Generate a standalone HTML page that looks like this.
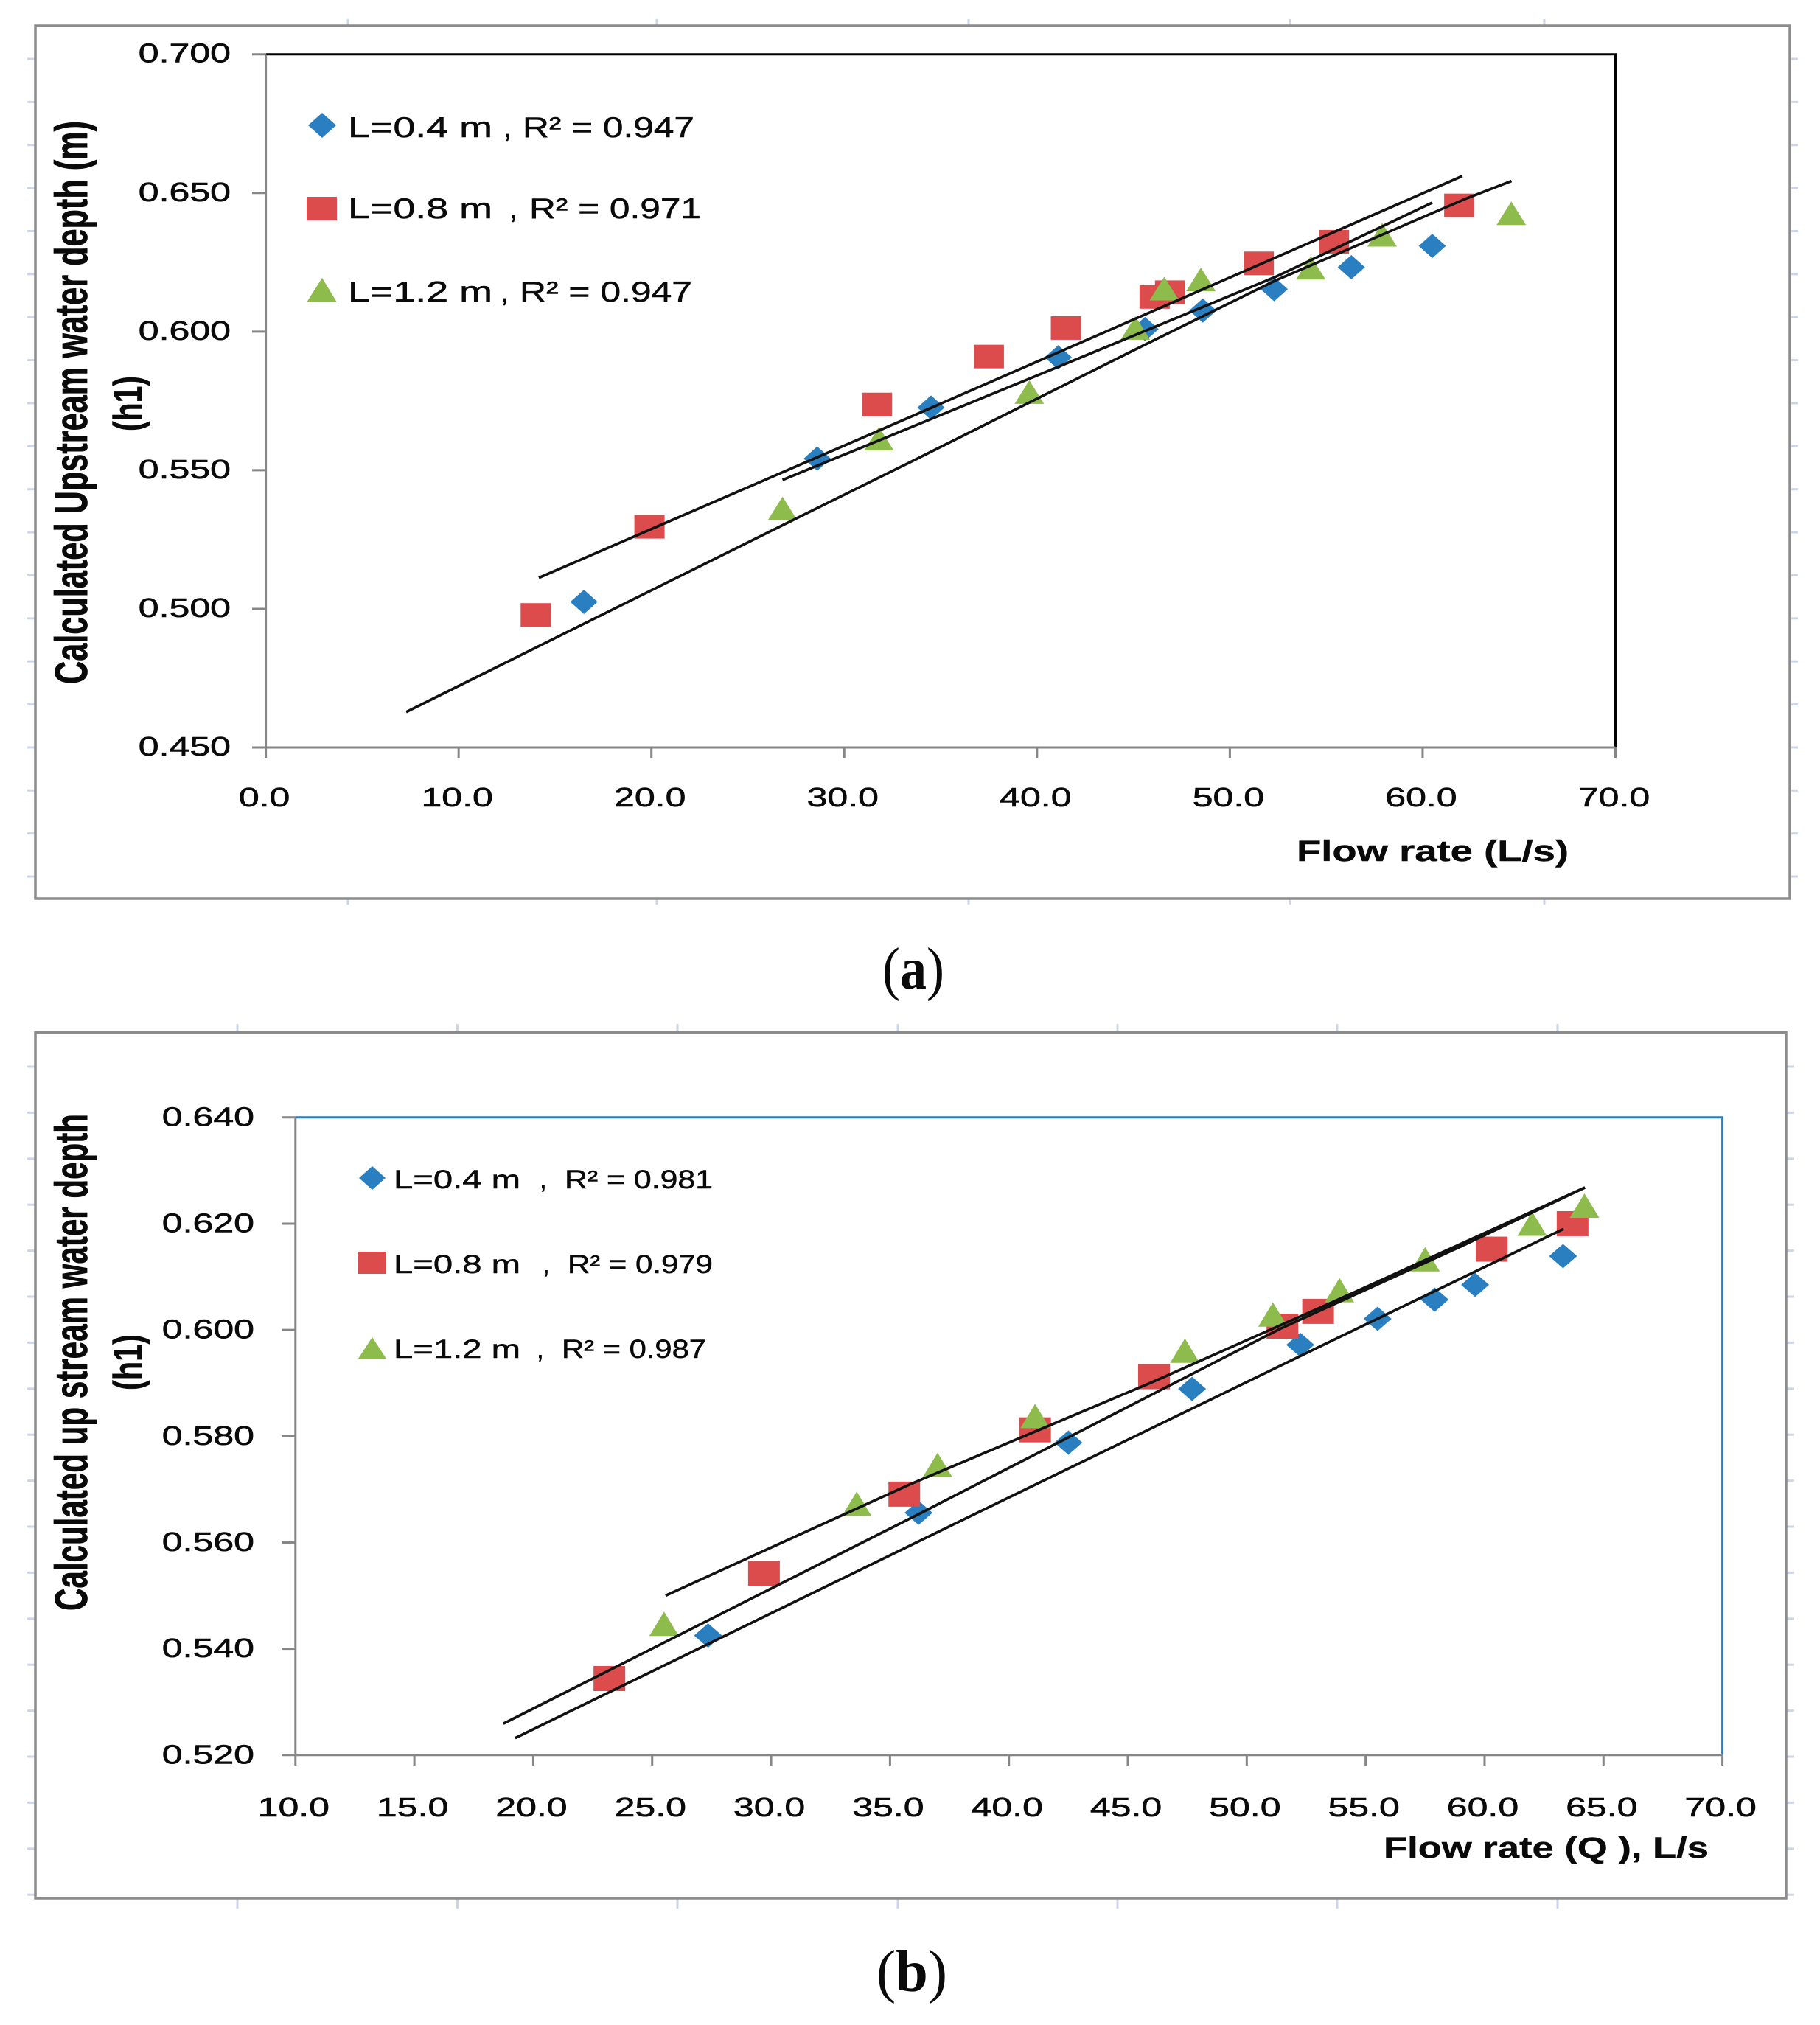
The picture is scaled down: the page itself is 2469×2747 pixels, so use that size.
<!DOCTYPE html>
<html lang="en">
<head>
<meta charset="utf-8">
<title>Calculated upstream water depth vs flow rate</title>
<style>
html,body{margin:0;padding:0;background:#fff;}
svg{display:block;}
text{font-family:"Liberation Sans",sans-serif;fill:#0a0a0a;}
.tick{stroke:#0a0a0a;stroke-width:.6;}
.legend{font-size:39px;stroke:#0a0a0a;stroke-width:.5;}
.legendb{font-size:35px;stroke:#0a0a0a;stroke-width:.5;}
.title{font-weight:bold;font-size:62px;stroke:#0a0a0a;stroke-width:.8;}
.h1{font-weight:bold;font-size:55px;stroke:#0a0a0a;stroke-width:.5;}
.xt{font-weight:bold;font-size:40px;stroke:#0a0a0a;stroke-width:.4;}
.cap{font-family:"Liberation Serif",serif;font-size:80px;}
.capb{font-weight:bold;}
</style>
</head>
<body>
<svg id="root" xmlns="http://www.w3.org/2000/svg" width="2469" height="2747" viewBox="0 0 2469 2747">
  <rect x="0" y="0" width="2469" height="2747" fill="#ffffff"/>

  <!-- Panel A static -->
  <g>
    <g id="a-deco"></g>
    <rect x="48" y="35" width="2380" height="1184" fill="#fff" stroke="#8c8c8c" stroke-width="3.5"/>
    <path d="M361 73.7H2191.5V1014" fill="none" stroke="#000" stroke-width="3"/>
    <path d="M360.6 73.7V1014H2191.5" fill="none" stroke="#868686" stroke-width="3"/>
    <g id="a-ticks"></g>
    <g id="a-marks"></g>
    <text class="title" transform="translate(118,928) rotate(-90)" textLength="764" lengthAdjust="spacingAndGlyphs">Calculated Upstream water depth (m)</text>
    <text class="h1" transform="translate(192,585) rotate(-90)" textLength="75" lengthAdjust="spacingAndGlyphs">(h1)</text>
    <text class="xt" x="1759" y="1168" textLength="369" lengthAdjust="spacingAndGlyphs">Flow rate (L/s)</text>
    <g>
      <polygon points="437,153 456,170 437,187 418,170" fill="#2a7fc0"/>
      <g>
        <text class="legend" x="472" y="186" textLength="196" lengthAdjust="spacingAndGlyphs">L=0.4 m</text>
        <text class="legend" x="683" y="186">,</text>
        <text class="legend" x="709" y="186" textLength="233" lengthAdjust="spacingAndGlyphs">R² = 0.947</text>
      </g>
      <rect x="416" y="267" width="41" height="32" fill="#dc4c4c"/>
      <g>
        <text class="legend" x="472" y="296" textLength="196" lengthAdjust="spacingAndGlyphs">L=0.8 m</text>
        <text class="legend" x="691" y="296">,</text>
        <text class="legend" x="718" y="296" textLength="233" lengthAdjust="spacingAndGlyphs">R² = 0.971</text>
      </g>
      <polygon points="437,377 457,410 416,410" fill="#8dbb4c"/>
      <g>
        <text class="legend" x="472" y="409" textLength="196" lengthAdjust="spacingAndGlyphs">L=1.2 m</text>
        <text class="legend" x="679" y="409">,</text>
        <text class="legend" x="705" y="409" textLength="234" lengthAdjust="spacingAndGlyphs">R² = 0.947</text>
      </g>
    </g>
  </g>
  <text class="cap" x="1197" y="1341" textLength="84" lengthAdjust="spacingAndGlyphs">(<tspan class="capb">a</tspan>)</text>

  <!-- Panel B static -->
  <g>
    <g id="b-deco"></g>
    <rect x="48" y="1400.6" width="2375" height="1174.4" fill="#fff" stroke="#8c8c8c" stroke-width="3.5"/>
    <path d="M401 1515.8H2336.6V2380.8" fill="none" stroke="#2a7dbd" stroke-width="3"/>
    <path d="M400.8 1515.8V2380.8H2336.6" fill="none" stroke="#868686" stroke-width="3"/>
    <g id="b-ticks"></g>
    <g id="b-marks"></g>
    <text class="title" transform="translate(118,2185) rotate(-90)" textLength="674" lengthAdjust="spacingAndGlyphs">Calculated up stream water depth</text>
    <text class="h1" transform="translate(192,1886) rotate(-90)" textLength="76" lengthAdjust="spacingAndGlyphs">(h1)</text>
    <text class="xt" x="1877" y="2520" textLength="441" lengthAdjust="spacingAndGlyphs">Flow rate (Q ), L/s</text>
    <g>
      <polygon points="505,1582 523,1598 505,1614 487,1598" fill="#2a7fc0"/>
      <g>
        <text class="legendb" x="534" y="1612" textLength="172" lengthAdjust="spacingAndGlyphs">L=0.4 m</text>
        <text class="legendb" x="732" y="1612">,</text>
        <text class="legendb" x="766" y="1612" textLength="201" lengthAdjust="spacingAndGlyphs">R² = 0.981</text>
      </g>
      <rect x="486" y="1698" width="38" height="30" fill="#dc4c4c"/>
      <g>
        <text class="legendb" x="534" y="1727" textLength="172" lengthAdjust="spacingAndGlyphs">L=0.8 m</text>
        <text class="legendb" x="736" y="1727">,</text>
        <text class="legendb" x="770" y="1727" textLength="197" lengthAdjust="spacingAndGlyphs">R² = 0.979</text>
      </g>
      <polygon points="505,1814 524,1843 486,1843" fill="#8dbb4c"/>
      <g>
        <text class="legendb" x="534" y="1842" textLength="172" lengthAdjust="spacingAndGlyphs">L=1.2 m</text>
        <text class="legendb" x="728" y="1842">,</text>
        <text class="legendb" x="762" y="1842" textLength="196" lengthAdjust="spacingAndGlyphs">R² = 0.987</text>
      </g>
    </g>
  </g>
  <text class="cap" x="1189" y="2701" textLength="96" lengthAdjust="spacingAndGlyphs">(<tspan class="capb">b</tspan>)</text>
</svg>

<script>
// Panel A data
const aXTickLabels = ['0.0','10.0','20.0','30.0','40.0','50.0','60.0','70.0'];
const aYTickLabels = ['0.450','0.500','0.550','0.600','0.650','0.700'];
const aL04X = [16.5,28.6,34.5,41.1,45.6,48.6,52.3,56.3,60.5];
const aL04Y = [0.5025,0.5542,0.5726,0.5907,0.6009,0.6076,0.6153,0.6232,0.6309];
const aL08X = [14.0,19.9,31.7,37.5,41.5,46.1,46.9,51.5,55.4,61.9];
const aL08Y = [0.4978,0.5296,0.5737,0.5910,0.6013,0.6125,0.6142,0.6246,0.6324,0.6455];
const aL12X = [26.8,31.8,39.6,45.1,46.6,48.5,54.2,57.9,64.6];
const aL12Y = [0.5362,0.5614,0.5782,0.6013,0.6155,0.6188,0.6230,0.6349,0.6427];
const aTrend1X = [14.16,33.39,62.06];
const aTrend1Y = [0.5112,0.5691,0.6561];
const aTrend2X = [26.8,41.07,52.36,60.5];
const aTrend2Y = [0.5465,0.5872,0.6197,0.6465];
const aTrend3X = [7.28,27.16,33.39,45.43,52.36,62.30,64.61];
const aTrend3Y = [0.4628,0.5314,0.5528,0.5947,0.6184,0.6481,0.6543];

// Panel B data
const bXTickLabels = ['10.0','15.0','20.0','25.0','30.0','35.0','40.0','45.0','50.0','55.0','60.0','65.0','70.0'];
const bYTickLabels = ['0.520','0.540','0.560','0.580','0.600','0.620','0.640'];
const bL04X = [27.35,36.2,42.5,47.7,52.25,55.5,57.9,59.6,63.3];
const bL04Y = [0.5425,0.5656,0.5788,0.5889,0.5972,0.6021,0.6057,0.6085,0.6139];
const bL08X = [23.2,29.7,35.6,41.1,46.1,51.5,53.0,60.3,63.7];
const bL08Y = [0.5344,0.5542,0.5691,0.5812,0.5912,0.6007,0.6035,0.6152,0.6200];
const bL12X = [25.5,33.6,37.0,41.1,47.4,51.1,53.9,57.5,62.0,64.2];
const bL12Y = [0.5447,0.5673,0.5746,0.5838,0.5961,0.6029,0.6075,0.6133,0.6200,0.6234];
const bTrend1X = [25.56,35.82,46.14,53.89,64.22];
const bTrend1Y = [0.5500,0.5709,0.5904,0.6058,0.6268];
const bTrend2X = [18.74,36.32,51.44,59.0,64.22];
const bTrend2Y = [0.5259,0.5656,0.6003,0.6157,0.6268];
const bTrend3X = [19.24,38.26,52.9,63.32];
const bTrend3Y = [0.5232,0.5647,0.5965,0.6190];

const NS = 'http://www.w3.org/2000/svg';
const BLUE = '#2a7fc0', RED = '#dc4c4c', GREEN = '#8dbb4c', PALE = '#ccd6e8', AXIS = '#868686';

function xA(v){ return 360.6 + (v - 0) * (2191.5 - 360.6) / 70; }
function yA(v){ return 1014 - (v - 0.45) * (1014 - 73.7) / 0.25; }
function xB(v){ return 400.8 + (v - 10) * (2336.6 - 400.8) / 60; }
function yB(v){ return 2380.8 - (v - 0.52) * (2380.8 - 1515.8) / 0.12; }

function seg(parent, name, x1, y1, x2, y2, color, w){
  const el = document.createElementNS(NS, 'line');
  
  
  el.setAttribute('x1', x1); el.setAttribute('y1', y1);
  el.setAttribute('x2', x2); el.setAttribute('y2', y2);
  el.setAttribute('stroke', color); el.setAttribute('stroke-width', w);
  parent.appendChild(el);
}
function label(parent, name, str, x, y, anchor){
  const el = document.createElementNS(NS, 'text');
  
  
  el.setAttribute('class', 'tick');
  el.setAttribute('font-size', '36');
  el.setAttribute('text-anchor', anchor);
  el.setAttribute('transform', 'translate(' + x + ',' + y + ') scale(1.39,1)');
  el.textContent = str;
  parent.appendChild(el);
}
function diamond(parent, name, cx, cy, w, h){
  const el = document.createElementNS(NS, 'polygon');
  
  
  el.setAttribute('points', [cx, cy - h/2, cx + w/2, cy, cx, cy + h/2, cx - w/2, cy].join(' '));
  el.setAttribute('fill', BLUE);
  parent.appendChild(el);
}
function square(parent, name, cx, cy, w, h){
  const el = document.createElementNS(NS, 'rect');
  
  
  el.setAttribute('x', cx - w/2); el.setAttribute('y', cy - h/2);
  el.setAttribute('width', w); el.setAttribute('height', h);
  el.setAttribute('fill', RED);
  parent.appendChild(el);
}
function triangle(parent, name, cx, cy, w, h){
  const el = document.createElementNS(NS, 'polygon');
  
  
  el.setAttribute('points', [cx, cy - h/2, cx + w/2, cy + h/2, cx - w/2, cy + h/2].join(' '));
  el.setAttribute('fill', GREEN);
  parent.appendChild(el);
}
function trend(parent, name, xs, ys, fx, fy){
  const el = document.createElementNS(NS, 'polyline');
  
  
  el.setAttribute('points', xs.map(function(v, i){ return fx(v) + ',' + fy(ys[i]); }).join(' '));
  el.setAttribute('fill', 'none');
  el.setAttribute('stroke', '#111');
  el.setAttribute('stroke-width', '3.6');
  parent.appendChild(el);
}

/* Panel A */
const aTicks = document.getElementById('a-ticks');
aYTickLabels.forEach(function(t){
  const v = parseFloat(t);
  seg(aTicks, 'y-tick-mark', 342, yA(v), 361, yA(v), AXIS, 3);
  label(aTicks, 'y-tick-label', t, 313, yA(v) + 11, 'end');
});
aXTickLabels.forEach(function(t){
  const v = parseFloat(t);
  seg(aTicks, 'x-tick-mark', xA(v), 1014, xA(v), 1028, AXIS, 3);
  label(aTicks, 'x-tick-label', t, xA(v) - 2, 1094, 'middle');
});
const aMarks = document.getElementById('a-marks');
aL04X.forEach(function(v, i){ diamond(aMarks, 'a-l04-point', xA(v), yA(aL04Y[i]), 37, 33); });
aL08X.forEach(function(v, i){ square(aMarks, 'a-l08-point', xA(v), yA(aL08Y[i]), 41, 32); });
aL12X.forEach(function(v, i){ triangle(aMarks, 'a-l12-point', xA(v), yA(aL12Y[i]), 40, 32); });
trend(aMarks, 'a-trendline-l08', aTrend1X, aTrend1Y, xA, yA);
trend(aMarks, 'a-trendline-l12', aTrend2X, aTrend2Y, xA, yA);
trend(aMarks, 'a-trendline-l04', aTrend3X, aTrend3Y, xA, yA);

/* Panel B */
const bTicks = document.getElementById('b-ticks');
bYTickLabels.forEach(function(t){
  const v = parseFloat(t);
  seg(bTicks, 'y-tick-mark', 382, yB(v), 401, yB(v), AXIS, 3);
  label(bTicks, 'y-tick-label', t, 345, yB(v) + 11.5, 'end');
});
bXTickLabels.forEach(function(t){
  const v = parseFloat(t);
  seg(bTicks, 'x-tick-mark', xB(v), 2380.8, xB(v), 2395, AXIS, 3);
  label(bTicks, 'x-tick-label', t, xB(v) - 2.5, 2464, 'middle');
});
const bMarks = document.getElementById('b-marks');
bL04X.forEach(function(v, i){ diamond(bMarks, 'b-l04-point', xB(v), yB(bL04Y[i]), 38, 33); });
bL08X.forEach(function(v, i){ square(bMarks, 'b-l08-point', xB(v), yB(bL08Y[i]), 43, 34); });
bL12X.forEach(function(v, i){ triangle(bMarks, 'b-l12-point', xB(v), yB(bL12Y[i]), 40, 33); });
trend(bMarks, 'b-trendline-l12', bTrend1X, bTrend1Y, xB, yB);
trend(bMarks, 'b-trendline-l08', bTrend2X, bTrend2Y, xB, yB);
trend(bMarks, 'b-trendline-l04', bTrend3X, bTrend3Y, xB, yB);

/* Pale decorative handles around the frames */
const aDeco = document.getElementById('a-deco');
for (let i = 0; i < 20; i++) {
  const y = 80 + i * 58.37;
  seg(aDeco, 'frame-handle', 37, y, 48, y, PALE, 3);
  seg(aDeco, 'frame-handle', 2428, y, 2439, y, PALE, 3);
}
[472, 891, 1314, 1750.5, 2095].forEach(function(x){
  seg(aDeco, 'frame-handle', x, 26, x, 35, PALE, 3);
  seg(aDeco, 'frame-handle', x, 1219, x, 1227, PALE, 3);
});
const bDeco = document.getElementById('b-deco');
for (let i = 0; i < 19; i++) {
  const y = 1447 + i * 62.4;
  seg(bDeco, 'frame-handle', 37, y, 48, y, PALE, 3);
  seg(bDeco, 'frame-handle', 2423, y, 2434, y, PALE, 3);
}
[322, 620.5, 919, 1218, 1516, 1814, 2113].forEach(function(x){
  seg(bDeco, 'frame-handle', x, 1389, x, 1400, PALE, 3);
  seg(bDeco, 'frame-handle', x, 2575, x, 2589, PALE, 3);
});
</script>
</body>
</html>
